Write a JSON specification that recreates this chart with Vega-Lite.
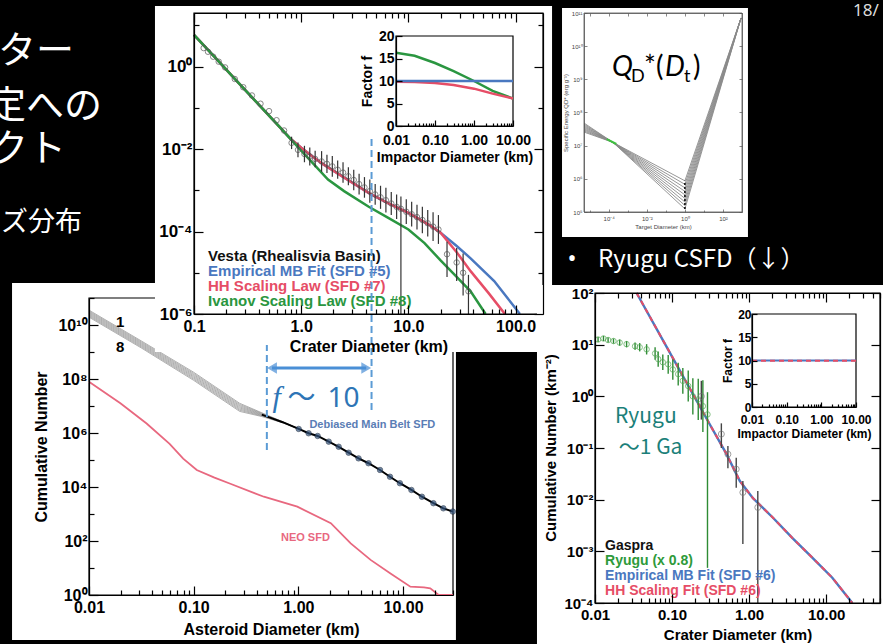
{
"$schema": "https://vega.github.io/schema/vega-lite/v6.json",
"width": 883, "height": 644, "autosize": {"type": "none"}, "padding": 0, "background": "#000000",
"config": {
 "view": {"stroke": null},
 "axis": {"grid": false, "domainColor": "#000000", "tickColor": "#000000", "labelColor": "#000000", "titleColor": "#000000", "labelFont": "Liberation Sans", "titleFont": "Liberation Sans", "labelFontWeight": "bold", "titleFontWeight": "bold", "domainWidth": 1.2, "tickWidth": 1.2, "labelOverlap": false, "labelFlush": false, "labelBound": false},
 "text": {"font": "Liberation Sans"}
},
"datasets": {
 "band": [
  {"x":0.01,"y":3.548e10,"k":0},{"x":0.0316,"y":2.570e9,"k":0},{"x":0.1,"y":1.778e8,"k":0},{"x":0.275,"y":1.259e7,"k":0},{"x":0.447,"y":5.623e6,"k":0},{"x":0.708,"y":2.630e6,"k":0},{"x":1.0,"y":1.445e6,"k":0},
  {"x":0.01,"y":3.258e10,"k":1},{"x":0.0316,"y":2.360e9,"k":1},{"x":0.1,"y":1.611e8,"k":1},{"x":0.275,"y":1.140e7,"k":1},{"x":0.447,"y":5.370e6,"k":1},{"x":0.708,"y":2.594e6,"k":1},{"x":1.0,"y":1.445e6,"k":1},
  {"x":0.01,"y":2.992e10,"k":2},{"x":0.0316,"y":2.168e9,"k":2},{"x":0.1,"y":1.459e8,"k":2},{"x":0.275,"y":1.033e7,"k":2},{"x":0.447,"y":5.129e6,"k":2},{"x":0.708,"y":2.564e6,"k":2},{"x":1.0,"y":1.445e6,"k":2},
  {"x":0.01,"y":2.748e10,"k":3},{"x":0.0316,"y":1.991e9,"k":3},{"x":0.1,"y":1.321e8,"k":3},{"x":0.275,"y":9.35e6,"k":3},{"x":0.447,"y":4.898e6,"k":3},{"x":0.708,"y":2.529e6,"k":3},{"x":1.0,"y":1.445e6,"k":3},
  {"x":0.01,"y":2.518e10,"k":4},{"x":0.0316,"y":1.824e9,"k":4},{"x":0.1,"y":1.199e8,"k":4},{"x":0.275,"y":8.49e6,"k":4},{"x":0.447,"y":4.677e6,"k":4},{"x":0.708,"y":2.495e6,"k":4},{"x":1.0,"y":1.445e6,"k":4},
  {"x":0.01,"y":2.312e10,"k":5},{"x":0.0316,"y":1.675e9,"k":5},{"x":0.1,"y":1.086e8,"k":5},{"x":0.275,"y":7.69e6,"k":5},{"x":0.447,"y":4.467e6,"k":5},{"x":0.708,"y":2.460e6,"k":5},{"x":1.0,"y":1.445e6,"k":5},
  {"x":0.01,"y":2.123e10,"k":6},{"x":0.0316,"y":1.538e9,"k":6},{"x":0.1,"y":9.84e7,"k":6},{"x":0.275,"y":6.97e6,"k":6},{"x":0.447,"y":4.266e6,"k":6},{"x":0.708,"y":2.432e6,"k":6},{"x":1.0,"y":1.445e6,"k":6},
  {"x":0.01,"y":1.950e10,"k":7},{"x":0.0316,"y":1.413e9,"k":7},{"x":0.1,"y":8.913e7,"k":7},{"x":0.275,"y":6.31e6,"k":7},{"x":0.447,"y":4.074e6,"k":7},{"x":0.708,"y":2.399e6,"k":7},{"x":1.0,"y":1.445e6,"k":7}
 ],
 "mbsfd": [
  {"x":0.447,"y":4.786e6,"dot":0},{"x":0.708,"y":2.512e6,"dot":0},{"x":1.007,"y":1.413e6,"dot":1},{"x":1.253,"y":9.77e5,"dot":1},{"x":1.528,"y":7.76e5,"dot":1},{"x":1.95,"y":4.786e5,"dot":1},{"x":2.427,"y":3.09e5,"dot":1},{"x":3.02,"y":1.862e5,"dot":1},{"x":3.758,"y":1.148e5,"dot":1},{"x":4.677,"y":7.59e4,"dot":1},{"x":6.026,"y":4.266e4,"dot":1},{"x":7.499,"y":2.399e4,"dot":1},{"x":9.333,"y":1.38e4,"dot":1},{"x":12.02,"y":7762,"dot":1},{"x":15.14,"y":4365,"dot":1},{"x":19.5,"y":2512,"dot":1},{"x":24.27,"y":1622,"dot":1},{"x":29.85,"y":1230,"dot":1}
 ],
 "neo": [
  {"x":0.01,"y":7.943e7},{"x":0.01995,"y":1.259e7},{"x":0.0355,"y":2.239e6},{"x":0.0589,"y":3.981e5},{"x":0.0794,"y":1.122e5},{"x":0.107,"y":4.266e4},{"x":0.158,"y":2.239e4},{"x":0.224,"y":1.318e4},{"x":0.468,"y":4365},{"x":0.977,"y":1862},{"x":2.042,"y":457},{"x":3.162,"y":81.3},{"x":4.898,"y":19.95},{"x":7.586,"y":6.31},{"x":11.75,"y":2.04},{"x":15.85,"y":1.905},{"x":18.2,"y":1.778},{"x":21.9,"y":1},{"x":30,"y":1}
 ],
 "vesta_lines": [
  {"s":"MB","x":0.1,"y":5.888},{"s":"MB","x":0.1585,"y":1.622},{"s":"MB","x":0.2512,"y":0.4467},{"s":"MB","x":0.3981,"y":0.123},{"s":"MB","x":0.631,"y":0.0339},{"s":"MB","x":0.7943,"y":0.01778},{"s":"MB","x":1.0,"y":0.01072},{"s":"MB","x":1.259,"y":0.00676},{"s":"MB","x":1.585,"y":0.004365},{"s":"MB","x":2.399,"y":0.002188},{"s":"MB","x":4.365,"y":0.000832},{"s":"MB","x":6.31,"y":0.000501},{"s":"MB","x":10,"y":0.0002818},{"s":"MB","x":15.85,"y":0.0001413},{"s":"MB","x":19.95,"y":9.33e-5},{"s":"MB","x":28.18,"y":4.467e-5},{"s":"MB","x":38.02,"y":2.239e-5},{"s":"MB","x":63.1,"y":6.31e-6},{"s":"MB","x":95.5,"y":1.585e-6},{"s":"MB","x":109.6,"y":1e-6},
  {"s":"HH","x":0.1,"y":5.888},{"s":"HH","x":0.1585,"y":1.622},{"s":"HH","x":0.2512,"y":0.4467},{"s":"HH","x":0.3981,"y":0.123},{"s":"HH","x":0.631,"y":0.0339},{"s":"HH","x":0.7943,"y":0.01778},{"s":"HH","x":1.0,"y":0.01072},{"s":"HH","x":1.259,"y":0.00676},{"s":"HH","x":1.585,"y":0.004365},{"s":"HH","x":2.399,"y":0.002188},{"s":"HH","x":4.365,"y":0.000832},{"s":"HH","x":6.31,"y":0.000501},{"s":"HH","x":10,"y":0.0002818},{"s":"HH","x":15.85,"y":0.0001413},{"s":"HH","x":19.95,"y":9.33e-5},{"s":"HH","x":28.18,"y":3.162e-5},{"s":"HH","x":38.02,"y":1.096e-5},{"s":"HH","x":56.23,"y":3.162e-6},{"s":"HH","x":79.43,"y":1e-6},
  {"s":"Iv","x":0.1,"y":5.888},{"s":"Iv","x":0.1585,"y":1.622},{"s":"Iv","x":0.2512,"y":0.4467},{"s":"Iv","x":0.3981,"y":0.123},{"s":"Iv","x":0.631,"y":0.0339},{"s":"Iv","x":1.0,"y":0.00912},{"s":"Iv","x":1.778,"y":0.00182},{"s":"Iv","x":2.512,"y":0.000955},{"s":"Iv","x":4.266,"y":0.000398},{"s":"Iv","x":6.31,"y":0.0002239},{"s":"Iv","x":10,"y":0.0001122},{"s":"Iv","x":14.13,"y":5.25e-5},{"s":"Iv","x":19.95,"y":1.995e-5},{"s":"Iv","x":28.18,"y":7.94e-6},{"s":"Iv","x":38.02,"y":3.548e-6},{"s":"Iv","x":52.48,"y":1e-6}
 ],
 "vesta_pts": [
  {"x":0.123,"y":2.818},{"x":0.135,"y":2.291},{"x":0.151,"y":1.738},{"x":0.17,"y":1.318},{"x":0.195,"y":0.955},{"x":0.24,"y":0.501},{"x":0.288,"y":0.316},{"x":0.347,"y":0.1995},{"x":0.417,"y":0.126},{"x":0.501,"y":0.0832},{"x":0.589,"y":0.0501},{"x":0.692,"y":0.0282},{"x":0.813,"y":0.0141},{"x":0.933,"y":0.00955},{"x":1.072,"y":0.00759},{"x":1.202,"y":0.00661},{"x":1.349,"y":0.00575},{"x":1.549,"y":0.00501},{"x":1.738,"y":0.00437},{"x":1.95,"y":0.0038},{"x":2.188,"y":0.00316},{"x":2.455,"y":0.00269},{"x":2.754,"y":0.00219},{"x":3.09,"y":0.001778},{"x":3.467,"y":0.001413},{"x":3.89,"y":0.001175},{"x":4.365,"y":0.000955},{"x":4.898,"y":0.000794},{"x":5.495,"y":0.000676},{"x":6.166,"y":0.000575},{"x":6.918,"y":0.000479},{"x":7.762,"y":0.000398},{"x":8.511,"y":0.000355},{"x":9.55,"y":0.000302},{"x":10.72,"y":0.000263},{"x":12.02,"y":0.000224},{"x":13.49,"y":0.0001905},{"x":15.14,"y":0.0001585},{"x":16.98,"y":0.0001318},{"x":19.05,"y":0.0001122},{"x":22.91,"y":2.82e-5},{"x":28.18,"y":1.778e-5},{"x":32.36,"y":1e-5},{"x":36.31,"y":3.55e-6}
 ],
 "vesta_err": [
  {"x":0.813,"y":0.01,"y2":0.01995},{"x":0.933,"y":0.00631,"y2":0.01445},{"x":1.072,"y":0.00479,"y2":0.012},{"x":1.202,"y":0.00398,"y2":0.01096},{"x":1.349,"y":0.00363,"y2":0.00912},{"x":1.549,"y":0.00282,"y2":0.00891},{"x":1.738,"y":0.00263,"y2":0.00724},{"x":1.95,"y":0.00214,"y2":0.00676},{"x":2.188,"y":0.001905,"y2":0.00525},{"x":2.455,"y":0.001514,"y2":0.00479},{"x":2.754,"y":0.001318,"y2":0.00363},{"x":3.09,"y":0.001,"y2":0.00316},{"x":3.467,"y":0.000794,"y2":0.00251},{"x":3.89,"y":0.000661,"y2":0.00209},{"x":4.365,"y":0.000501,"y2":0.00182},{"x":4.898,"y":0.000447,"y2":0.001413},{"x":5.495,"y":0.000355,"y2":0.001288},{"x":6.166,"y":0.000288,"y2":0.001148},{"x":6.918,"y":0.000251,"y2":0.000912},{"x":7.762,"y":0.0002,"y2":0.000794},{"x":8.511,"y":1e-6,"y2":0.000708},{"x":9.55,"y":0.0001514,"y2":0.000603},{"x":10.72,"y":0.0001318,"y2":0.000525},{"x":12.02,"y":0.0001122,"y2":0.000447},{"x":13.49,"y":9.12e-5,"y2":0.000398},{"x":15.14,"y":7.59e-5,"y2":0.000331},{"x":16.98,"y":5.89e-5,"y2":0.000295},{"x":19.05,"y":5.01e-5,"y2":0.000251},{"x":22.91,"y":7.94e-6,"y2":5.62e-5},{"x":28.18,"y":6.31e-6,"y2":3.98e-5},{"x":32.36,"y":2.82e-6,"y2":2.95e-5},{"x":36.31,"y":1e-6,"y2":8.91e-6}
 ],
 "vinset": [
  {"s":"Iv","x":0.01,"y":16.3},{"s":"Iv","x":0.03,"y":15.6},{"s":"Iv","x":0.1,"y":14.0},{"s":"Iv","x":0.3,"y":12.2},{"s":"Iv","x":1,"y":10.0},{"s":"Iv","x":3,"y":7.8},{"s":"Iv","x":10,"y":6.1},
  {"s":"HH","x":0.01,"y":9.85},{"s":"HH","x":0.03,"y":9.8},{"s":"HH","x":0.1,"y":9.55},{"s":"HH","x":0.3,"y":9.1},{"s":"HH","x":1,"y":8.3},{"s":"HH","x":3,"y":7.2},{"s":"HH","x":10,"y":6.1},
  {"s":"MB","x":0.01,"y":10},{"s":"MB","x":10,"y":10}
 ],
 "qd": [
  {"k":0,"x":5.012e-6,"y":2.57e7},{"k":0,"x":1.66e-4,"y":1.259e7},{"k":0,"x":1,"y":8.71e5},{"k":0,"x":891,"y":7.08e10},
  {"k":1,"x":5.012e-6,"y":2.78e7},{"k":1,"x":1.66e-4,"y":1.259e7},{"k":1,"x":1,"y":6.82e5},{"k":1,"x":891,"y":7.08e10},
  {"k":2,"x":5.012e-6,"y":3.01e7},{"k":2,"x":1.66e-4,"y":1.259e7},{"k":2,"x":1,"y":5.35e5},{"k":2,"x":891,"y":7.08e10},
  {"k":3,"x":5.012e-6,"y":3.25e7},{"k":3,"x":1.66e-4,"y":1.259e7},{"k":3,"x":1,"y":4.19e5},{"k":3,"x":891,"y":7.08e10},
  {"k":4,"x":5.012e-6,"y":3.52e7},{"k":4,"x":1.66e-4,"y":1.259e7},{"k":4,"x":1,"y":3.28e5},{"k":4,"x":891,"y":7.08e10},
  {"k":5,"x":5.012e-6,"y":3.80e7},{"k":5,"x":1.66e-4,"y":1.259e7},{"k":5,"x":1,"y":2.57e5},{"k":5,"x":891,"y":7.08e10},
  {"k":6,"x":5.012e-6,"y":4.11e7},{"k":6,"x":1.66e-4,"y":1.259e7},{"k":6,"x":1,"y":2.01e5},{"k":6,"x":891,"y":7.08e10},
  {"k":7,"x":5.012e-6,"y":4.45e7},{"k":7,"x":1.66e-4,"y":1.259e7},{"k":7,"x":1,"y":1.58e5},{"k":7,"x":891,"y":7.08e10},
  {"k":8,"x":5.012e-6,"y":4.81e7},{"k":8,"x":1.66e-4,"y":1.259e7},{"k":8,"x":1,"y":1.24e5},{"k":8,"x":891,"y":7.08e10}
 ],
 "rfit": [
  {"x":0.03467,"y":100},{"x":0.1,"y":5.888},{"x":0.3162,"y":0.2692},{"x":0.5012,"y":0.07943},{"x":0.7586,"y":0.02291},{"x":1.122,"y":0.01072},{"x":2.042,"y":0.004467},{"x":3.631,"y":0.00182},{"x":6.607,"y":0.000759},{"x":12.02,"y":0.000309},{"x":21.88,"y":0.0001}
 ],
 "ryugu_pts": [
  {"x":0.01096,"y":12.59},{"x":0.01288,"y":13.18},{"x":0.01479,"y":12.3},{"x":0.01738,"y":11.75},{"x":0.02089,"y":10.96},{"x":0.0257,"y":10.23},{"x":0.03311,"y":9.33},{"x":0.03802,"y":8.91},{"x":0.04677,"y":8.13},{"x":0.06026,"y":6.76},{"x":0.06607,"y":5.25},{"x":0.07586,"y":4.57},{"x":0.08913,"y":4.17},{"x":0.1023,"y":3.31},{"x":0.1202,"y":2.69},{"x":0.138,"y":1.995},{"x":0.1622,"y":1.585},{"x":0.1862,"y":1.0},{"x":0.2188,"y":0.871},{"x":0.2512,"y":0.646},{"x":0.2884,"y":0.447}
 ],
 "ryugu_err": [
  {"x":0.01096,"y":11.22,"y2":14.13},{"x":0.01288,"y":11.75,"y2":14.79},{"x":0.01479,"y":10.96,"y2":13.8},{"x":0.01738,"y":10.47,"y2":13.18},{"x":0.02089,"y":9.55,"y2":12.59},{"x":0.0257,"y":8.91,"y2":11.75},{"x":0.03311,"y":7.94,"y2":10.96},{"x":0.03802,"y":7.41,"y2":10.72},{"x":0.04677,"y":6.46,"y2":10.23},{"x":0.06026,"y":5.13,"y2":8.91},{"x":0.06607,"y":3.72,"y2":7.41},{"x":0.07586,"y":3.24,"y2":6.46},{"x":0.08913,"y":2.75,"y2":6.31},{"x":0.1023,"y":2.09,"y2":5.25},{"x":0.1202,"y":1.622,"y2":4.467},{"x":0.138,"y":1.122,"y2":3.548},{"x":0.1622,"y":0.794,"y2":3.162},{"x":0.1862,"y":0.447,"y2":2.239},{"x":0.2188,"y":0.347,"y2":2.188},{"x":0.2512,"y":0.204,"y2":2.042},{"x":0.2884,"y":0.000479,"y2":1.202}
 ],
 "gaspra_pts": [
  {"x":0.2399,"y":1.0},{"x":0.4365,"y":0.1862},{"x":0.5309,"y":0.07586},{"x":0.6808,"y":0.0389},{"x":0.8299,"y":0.0138},{"x":1.297,"y":0.00708}
 ],
 "gaspra_err": [
  {"x":0.2399,"y":0.3548,"y2":1.995},{"x":0.4365,"y":0.1,"y2":0.3},{"x":0.5309,"y":0.04074,"y2":0.1096},{"x":0.6808,"y":0.01698,"y2":0.06457},{"x":0.8299,"y":0.00138,"y2":0.02291},{"x":1.297,"y":0.0001,"y2":0.01479}
 ]
},
"resolve": {"scale": {"x": "independent", "y": "independent", "color": "independent"}, "axis": {"x": "independent", "y": "independent"}},
"layer": [
 {
  "encoding": {
   "x": {"field": "px", "type": "quantitative", "scale": {"domain": [0, 1], "range": [0, 883], "nice": false, "zero": false}, "axis": null},
   "y": {"field": "py", "type": "quantitative", "scale": {"domain": [0, 1], "range": [0, 644], "nice": false, "zero": false}, "axis": null}
  },
  "layer": [
   {"data": {"values": [{"px": 0.0838, "py": 0.081, "t": "クレーター"}, {"px": 0.1155, "py": 0.166, "t": "年代推定への"}, {"px": 0.0747, "py": 0.233, "t": "インパクト"}]},
    "mark": {"type": "text", "font": "Noto Sans CJK JP", "fontSize": 38, "align": "right", "baseline": "middle", "color": "#ffffff"}, "encoding": {"text": {"field": "t"}}},
   {"data": {"values": [{"px": 0.0929, "py": 0.3463, "t": "サイズ分布"}]},
    "mark": {"type": "text", "font": "Noto Sans CJK JP", "fontSize": 27, "align": "right", "baseline": "middle", "color": "#ffffff"}, "encoding": {"text": {"field": "t"}}},
   {"data": {"values": [{"px": 0.966, "py": 0.017, "t": "18/"}]},
    "mark": {"type": "text", "font": "Noto Sans", "fontSize": 17, "align": "left", "baseline": "middle", "color": "#dddddd"}, "encoding": {"text": {"field": "t"}}},
   {"data": {"values": [{"px": 0.6478, "py": 0.4037, "t": "•"}]},
    "mark": {"type": "text", "font": "Noto Sans", "fontSize": 24, "align": "center", "baseline": "middle", "color": "#ffffff"}, "encoding": {"text": {"field": "t"}}},
   {"data": {"values": [{"px": 0.6772, "py": 0.4037, "t": "Ryugu CSFD（↓）"}]},
    "mark": {"type": "text", "font": "Noto Sans CJK JP", "fontSize": 24, "align": "left", "baseline": "middle", "color": "#ffffff"}, "encoding": {"text": {"field": "t"}}}
  ]
 },
 {
  "encoding": {
   "x": {"field": "x", "type": "quantitative", "scale": {"type": "log", "domain": [0.01, 30], "range": [89, 453], "nice": false},
    "axis": {"orient": "bottom", "offset": -49, "zindex": 1, "values": [0.01,0.02,0.03,0.04,0.05,0.06,0.07,0.08,0.09,0.1,0.2,0.3,0.4,0.5,0.6,0.7,0.8,0.9,1,2,3,4,5,6,7,8,9,10,20,30],
     "labelExpr": "abs(log(datum.value)/LN10 - round(log(datum.value)/LN10)) < 0.001 ? format(datum.value, '.2f') : ''",
     "tickSize": {"condition": {"test": "abs(log(datum.value)/LN10 - round(log(datum.value)/LN10)) < 0.001", "value": -9}, "value": -5},
     "labelPadding": 13, "labelFontSize": 16, "title": "Asteroid Diameter (km)", "titleFontSize": 16, "titlePadding": 2}},
   "y": {"field": "y", "type": "quantitative", "scale": {"type": "log", "domain": [1, 1e11], "range": [595, 298], "nice": false},
    "axis": {"orient": "left", "offset": -89, "zindex": 1, "values": [1,10,100,1000,1e4,1e5,1e6,1e7,1e8,1e9,1e10,1e11],
     "labelExpr": "round(log(datum.value)/LN10) % 2 == 0 ? '10' + replace(replace(replace(replace(replace(replace(replace(replace(replace(replace(replace(toString(round(log(datum.value)/LN10)), '-', '⁻'), '0', '⁰'), regexp('1', 'g'), '¹'), '2', '²'), '3', '³'), '4', '⁴'), '5', '⁵'), '6', '⁶'), '7', '⁷'), '8', '⁸'), '9', '⁹') : ''",
     "tickSize": {"condition": {"test": "round(log(datum.value)/LN10) % 2 == 0", "value": -9}, "value": -5},
     "labelPadding": 11, "labelFontSize": 16, "title": "Cumulative Number", "titleFontSize": 16, "titlePadding": 8}}
  },
  "layer": [
   {"data": {"values": [{"x": 0.00184, "x2": 32, "y": 0.0215, "y2": 3.59e11}]}, "mark": {"type": "rect", "color": "#ffffff"}, "encoding": {"x2": {"field": "x2"}, "y2": {"field": "y2"}}},
   {"data": {"values": [{"x": 0.01, "x2": 30, "y": 1, "y2": 1e11}]}, "mark": {"type": "rect", "filled": false, "color": "#000000", "strokeWidth": 1.2}, "encoding": {"x2": {"field": "x2"}, "y2": {"field": "y2"}}},
   {"data": {"name": "band"}, "mark": {"type": "line", "color": "#9a9a9a", "strokeWidth": 0.8}, "encoding": {"detail": {"field": "k"}}},
   {"data": {"name": "mbsfd"}, "mark": {"type": "line", "color": "#000000", "strokeWidth": 2}},
   {"data": {"name": "mbsfd"}, "transform": [{"filter": "datum.dot == 1"}], "mark": {"type": "point", "shape": "circle", "filled": true, "size": 30, "color": "#34557f", "stroke": "#15253a", "strokeWidth": 0.8}},
   {"data": {"name": "neo"}, "mark": {"type": "line", "color": "#e8687f", "strokeWidth": 1.8}},
   {"data": {"values": [{"x": 0.0198, "y": 1.29e10, "t": "1"}, {"x": 0.0198, "y": 1.53e9, "t": "8"}]}, "mark": {"type": "text", "fontSize": 15, "fontWeight": "bold", "color": "#000000", "align": "center", "baseline": "middle"}, "encoding": {"text": {"field": "t"}}},
   {"data": {"values": [{"x": 5.09, "y": 1.98e6, "t": "Debiased Main Belt SFD"}]}, "mark": {"type": "text", "fontSize": 11, "fontWeight": "bold", "color": "#5a7db5", "align": "center", "baseline": "middle"}, "encoding": {"text": {"field": "t"}}},
   {"data": {"values": [{"x": 1.167, "y": 129, "t": "NEO SFD"}]}, "mark": {"type": "text", "fontSize": 11, "fontWeight": "bold", "color": "#e8687f", "align": "center", "baseline": "middle"}, "encoding": {"text": {"field": "t"}}}
  ]
 },
 {
  "encoding": {
   "x": {"field": "x", "type": "quantitative", "scale": {"type": "log", "domain": [0.1, 180], "range": [194, 543], "nice": false},
    "axis": {"orient": "bottom", "offset": -330, "zindex": 1, "values": [0.1,0.2,0.3,0.4,0.5,0.6,0.7,0.8,0.9,1,2,3,4,5,6,7,8,9,10,20,30,40,50,60,70,80,90,100],
     "labelExpr": "abs(log(datum.value)/LN10 - round(log(datum.value)/LN10)) < 0.001 ? format(datum.value, '.1f') : ''",
     "tickSize": {"condition": {"test": "abs(log(datum.value)/LN10 - round(log(datum.value)/LN10)) < 0.001", "value": -9}, "value": -5},
     "labelPadding": 13, "labelFontSize": 16, "title": "Crater Diameter (km)", "titleFontSize": 16, "titlePadding": 0}},
   "y": {"field": "y", "type": "quantitative", "scale": {"type": "log", "domain": [1e-6, 19.95], "range": [314, 13], "nice": false},
    "axis": {"orient": "left", "offset": -194, "zindex": 1, "values": [1e-6,1e-5,1e-4,1e-3,0.01,0.1,1,10],
     "labelExpr": "round(log(datum.value)/LN10) % 2 == 0 ? '10' + replace(replace(replace(replace(replace(replace(replace(replace(replace(replace(replace(toString(round(log(datum.value)/LN10)), '-', '⁻'), '0', '⁰'), regexp('1', 'g'), '¹'), '2', '²'), '3', '³'), '4', '⁴'), '5', '⁵'), '6', '⁶'), '7', '⁷'), '8', '⁸'), '9', '⁹') : ''",
     "tickSize": {"condition": {"test": "round(log(datum.value)/LN10) % 2 == 0", "value": -9}, "value": -5},
     "labelPadding": 11, "labelFontSize": 17, "title": null}}
  },
  "layer": [
   {"data": {"values": [{"x": 0.04325, "x2": 218.6, "y": 1.2e-7, "y2": 29.5}]}, "mark": {"type": "rect", "color": "#ffffff"}, "encoding": {"x2": {"field": "x2"}, "y2": {"field": "y2"}}},
   {"data": {"name": "vesta_lines"}, "mark": {"type": "line", "strokeWidth": 2.5}, "encoding": {"color": {"field": "s", "type": "nominal", "scale": {"domain": ["Vesta", "MB", "HH", "Iv"], "range": ["#111111", "#4a78c0", "#e64d66", "#2a9640"]}, "legend": null}}},
   {"data": {"name": "vesta_err"}, "mark": {"type": "rule", "color": "#333333", "strokeWidth": 1.2}, "encoding": {"y2": {"field": "y2"}}},
   {"data": {"name": "vesta_pts"}, "mark": {"type": "point", "shape": "circle", "filled": false, "size": 30, "color": "#555555", "strokeWidth": 1}},
   {"data": {"values": [{"x": 0.1352, "y": 2.547e-5, "t": "Vesta (Rhealisvia Basin)", "s": "Vesta"}, {"x": 0.1352, "y": 1.102e-5, "t": "Empirical MB Fit (SFD #5)", "s": "MB"}, {"x": 0.1352, "y": 4.77e-6, "t": "HH Scaling Law (SFD #7)", "s": "HH"}, {"x": 0.1352, "y": 2.065e-6, "t": "Ivanov Scaling Law (SFD #8)", "s": "Iv"}]},
    "mark": {"type": "text", "fontSize": 15, "fontWeight": "bold", "align": "left", "baseline": "middle"},
    "encoding": {"text": {"field": "t"}, "color": {"field": "s", "type": "nominal", "scale": {"domain": ["Vesta", "MB", "HH", "Iv"], "range": ["#111111", "#4a78c0", "#e64d66", "#2a9640"]}, "legend": null}}}
  ]
 },
 {
  "data": {"values": [{"x": 0.1, "x2": 180, "y": 1e-6, "y2": 19.95}]},
  "mark": {"type": "rect", "filled": false, "color": "#000000", "strokeWidth": 1.2},
  "encoding": {
   "x": {"field": "x", "type": "quantitative", "scale": {"type": "log", "domain": [0.1, 180], "range": [194, 543], "nice": false},
    "axis": {"orient": "top", "offset": -13, "zindex": 1, "labels": false, "title": null, "values": [0.1,0.2,0.3,0.4,0.5,0.6,0.7,0.8,0.9,1,2,3,4,5,6,7,8,9,10,20,30,40,50,60,70,80,90,100],
     "tickSize": {"condition": {"test": "abs(log(datum.value)/LN10 - round(log(datum.value)/LN10)) < 0.001", "value": -9}, "value": -5}}},
   "x2": {"field": "x2"},
   "y": {"field": "y", "type": "quantitative", "scale": {"type": "log", "domain": [1e-6, 19.95], "range": [314, 13], "nice": false},
    "axis": {"orient": "right", "offset": -340, "zindex": 1, "labels": false, "title": null, "values": [1e-6,1e-5,1e-4,1e-3,0.01,0.1,1,10],
     "tickSize": {"condition": {"test": "round(log(datum.value)/LN10) % 2 == 0", "value": -9}, "value": -5}}},
   "y2": {"field": "y2"}
  }
 },
 {
  "encoding": {
   "x": {"field": "x", "type": "quantitative", "scale": {"type": "log", "domain": [0.01, 10], "range": [396, 513], "nice": false},
    "axis": {"orient": "bottom", "offset": -518, "zindex": 1, "values": [0.01,0.02,0.03,0.04,0.05,0.06,0.07,0.08,0.09,0.1,0.2,0.3,0.4,0.5,0.6,0.7,0.8,0.9,1,2,3,4,5,6,7,8,9,10],
     "labelExpr": "abs(log(datum.value)/LN10 - round(log(datum.value)/LN10)) < 0.001 ? format(datum.value, '.2f') : ''",
     "tickSize": {"condition": {"test": "abs(log(datum.value)/LN10 - round(log(datum.value)/LN10)) < 0.001", "value": -6}, "value": -3},
     "labelPadding": 13, "labelFontSize": 14, "title": "Impactor Diameter (km)", "titleFontSize": 14, "titlePadding": 0}},
   "y": {"field": "y", "type": "quantitative", "scale": {"domain": [0, 20], "range": [126, 36], "nice": false, "zero": false},
    "axis": {"orient": "left", "offset": -396, "zindex": 1, "values": [0, 5, 10, 15, 20], "tickSize": -6, "labelPadding": 8, "labelFontSize": 14, "title": "Factor f", "titleFontSize": 14, "titlePadding": 4}}
  },
  "layer": [
   {"data": {"values": [{"x": 0.01, "x2": 10, "y": 0, "y2": 20}]}, "mark": {"type": "rect", "filled": false, "color": "#000000", "strokeWidth": 1.2}, "encoding": {"x2": {"field": "x2"}, "y2": {"field": "y2"}}},
   {"data": {"name": "vinset"}, "mark": {"type": "line", "strokeWidth": 2.5}, "encoding": {"color": {"field": "s", "type": "nominal", "scale": {"domain": ["MB", "HH", "Iv"], "range": ["#4a78c0", "#e64d66", "#2a9640"]}, "legend": null}}}
  ]
 },
 {
  "encoding": {
   "x": {"field": "x", "type": "quantitative", "scale": {"type": "log", "domain": [0.01, 30], "range": [89, 453], "nice": false}, "axis": null},
   "y": {"field": "y", "type": "quantitative", "scale": {"type": "log", "domain": [1, 1e11], "range": [595, 298], "nice": false}, "axis": null}
  },
  "layer": [
   {"data": {"values": [{"x": 0.5, "y": 2.34e5, "y2": 1.82e9}, {"x": 5, "y": 7.08e6, "y2": 1.1e17}]}, "mark": {"type": "rule", "color": "#5b9bd5", "strokeWidth": 2, "strokeDash": [7, 4]}, "encoding": {"y2": {"field": "y2"}}},
   {"data": {"values": [{"x": 0.56, "x2": 4.45, "y": 2.55e8}]}, "mark": {"type": "rule", "color": "#4a8fd6", "strokeWidth": 3}, "encoding": {"x2": {"field": "x2"}}},
   {"data": {"values": [{"x": 0.56, "y": 2.55e8}]}, "mark": {"type": "point", "shape": "triangle-left", "filled": true, "size": 130, "color": "#4a8fd6"}},
   {"data": {"values": [{"x": 4.45, "y": 2.55e8}]}, "mark": {"type": "point", "shape": "triangle-right", "filled": true, "size": 130, "color": "#4a8fd6"}},
   {"data": {"values": [{"x": 0.565, "y": 9.18e6, "t": "f"}]}, "mark": {"type": "text", "font": "Liberation Serif", "fontStyle": "italic", "fontSize": 30, "align": "left", "baseline": "alphabetic", "color": "#2e75b6"}, "encoding": {"text": {"field": "t"}}},
   {"data": {"values": [{"x": 0.565, "y": 9.18e6, "t": "～"}]}, "mark": {"type": "text", "font": "Noto Sans CJK JP", "fontSize": 28, "align": "left", "baseline": "alphabetic", "dx": 15, "color": "#2e75b6"}, "encoding": {"text": {"field": "t"}}},
   {"data": {"values": [{"x": 0.565, "y": 9.18e6, "t": "10"}]}, "mark": {"type": "text", "font": "Noto Sans", "fontSize": 28, "align": "left", "baseline": "alphabetic", "dx": 55, "color": "#2e75b6"}, "encoding": {"text": {"field": "t"}}}
  ]
 },
 {
  "encoding": {
   "x": {"field": "x", "type": "quantitative", "scale": {"type": "log", "domain": [5.012e-6, 1000], "range": [584, 742], "nice": false},
    "axis": {"orient": "bottom", "offset": -432, "zindex": 1, "values": [1e-5,1e-4,1e-3,0.01,0.1,1,10,100],
     "labelExpr": "round(log(datum.value)/LN10) % 2 == 0 ? '10' + replace(replace(replace(replace(replace(replace(replace(replace(replace(replace(replace(toString(round(log(datum.value)/LN10)), '-', '⁻'), '0', '⁰'), regexp('1', 'g'), '¹'), '2', '²'), '3', '³'), '4', '⁴'), '5', '⁵'), '6', '⁶'), '7', '⁷'), '8', '⁸'), '9', '⁹') : ''",
     "tickSize": {"condition": {"test": "round(log(datum.value)/LN10) % 2 == 0", "value": -3}, "value": -2},
     "labelPadding": 6, "labelFontSize": 6, "labelFontWeight": "normal", "labelColor": "#444444", "domainColor": "#555555", "tickColor": "#555555", "domainWidth": 0.8, "tickWidth": 0.7,
     "title": "Target Diameter (km)", "titleFontSize": 6, "titleFontWeight": "normal", "titleColor": "#444444", "titlePadding": 1}},
   "y": {"field": "y", "type": "quantitative", "scale": {"type": "log", "domain": [1e5, 1e11], "range": [212, 13], "nice": false},
    "axis": {"orient": "left", "offset": -584, "zindex": 1, "values": [1e5,1e6,1e7,1e8,1e9,1e10,1e11],
     "labelExpr": "'10' + replace(replace(replace(replace(replace(replace(replace(replace(replace(replace(replace(toString(round(log(datum.value)/LN10)), '-', '⁻'), '0', '⁰'), regexp('1', 'g'), '¹'), '2', '²'), '3', '³'), '4', '⁴'), '5', '⁵'), '6', '⁶'), '7', '⁷'), '8', '⁸'), '9', '⁹')",
     "tickSize": -3, "labelPadding": 5, "labelFontSize": 6, "labelFontWeight": "normal", "labelColor": "#444444", "domainColor": "#555555", "tickColor": "#555555", "domainWidth": 0.8, "tickWidth": 0.7,
     "title": "Specific Energy QD* (erg g⁻¹)", "titleFontSize": 6, "titleFontWeight": "normal", "titleColor": "#444444", "titlePadding": 3}}
  },
  "layer": [
   {"data": {"values": [{"x": 3.51e-7, "x2": 2056, "y": 1.766e4, "y2": 1.413e11}]}, "mark": {"type": "rect", "color": "#ffffff"}, "encoding": {"x2": {"field": "x2"}, "y2": {"field": "y2"}}},
   {"data": {"name": "qd"}, "mark": {"type": "line", "color": "#8a8a8a", "strokeWidth": 0.9}, "encoding": {"detail": {"field": "k"}}},
   {"data": {"values": [{"x": 7.94e-5, "y": 1.585e7}, {"x": 2.512e-4, "y": 1.122e7}]}, "mark": {"type": "line", "color": "#3fc040", "strokeWidth": 2}},
   {"data": {"values": [{"x": 1, "y": 1.24e5, "y2": 8.71e5}]}, "mark": {"type": "rule", "color": "#000000", "strokeWidth": 1.5, "strokeDash": [2, 2]}, "encoding": {"y2": {"field": "y2"}}},
   {"data": {"values": [{"x": 1.483e-4, "y": 1.259e9, "t": "Q"}]}, "mark": {"type": "text", "font": "Lato", "fontSize": 28, "fontStyle": "italic", "align": "left", "baseline": "alphabetic", "color": "#000000"}, "encoding": {"text": {"field": "t"}}},
   {"data": {"values": [{"x": 1.483e-4, "y": 1.259e9, "t": "D"}]}, "mark": {"type": "text", "font": "Lato", "fontSize": 18, "align": "left", "baseline": "alphabetic", "dx": 19, "dy": 6, "color": "#000000"}, "encoding": {"text": {"field": "t"}}},
   {"data": {"values": [{"x": 1.483e-4, "y": 1.259e9, "t": "*("}]}, "mark": {"type": "text", "font": "Lato", "fontSize": 28, "align": "left", "baseline": "alphabetic", "dx": 32, "color": "#000000"}, "encoding": {"text": {"field": "t"}}},
   {"data": {"values": [{"x": 1.483e-4, "y": 1.259e9, "t": "D"}]}, "mark": {"type": "text", "font": "Lato", "fontSize": 28, "fontStyle": "italic", "align": "left", "baseline": "alphabetic", "dx": 53, "color": "#000000"}, "encoding": {"text": {"field": "t"}}},
   {"data": {"values": [{"x": 1.483e-4, "y": 1.259e9, "t": "t"}]}, "mark": {"type": "text", "font": "Lato", "fontSize": 18, "align": "left", "baseline": "alphabetic", "dx": 72, "dy": 6, "color": "#000000"}, "encoding": {"text": {"field": "t"}}},
   {"data": {"values": [{"x": 1.483e-4, "y": 1.259e9, "t": ")"}]}, "mark": {"type": "text", "font": "Lato", "fontSize": 28, "align": "left", "baseline": "alphabetic", "dx": 81, "color": "#000000"}, "encoding": {"text": {"field": "t"}}}
  ]
 },
 {
  "data": {"values": [{"x": 5.012e-6, "x2": 1000, "y": 1e5, "y2": 1e11}]},
  "mark": {"type": "rect", "filled": false, "color": "#555555", "strokeWidth": 0.8},
  "encoding": {
   "x": {"field": "x", "type": "quantitative", "scale": {"type": "log", "domain": [5.012e-6, 1000], "range": [584, 742], "nice": false},
    "axis": {"orient": "top", "offset": -13, "zindex": 1, "labels": false, "title": null, "values": [1e-5,1e-4,1e-3,0.01,0.1,1,10,100], "tickSize": -3, "domainColor": "#555555", "tickColor": "#555555", "domainWidth": 0.8, "tickWidth": 0.7}},
   "x2": {"field": "x2"},
   "y": {"field": "y", "type": "quantitative", "scale": {"type": "log", "domain": [1e5, 1e11], "range": [212, 13], "nice": false},
    "axis": {"orient": "right", "offset": -141, "zindex": 1, "labels": false, "title": null, "values": [1e5,1e6,1e7,1e8,1e9,1e10,1e11], "tickSize": -3, "domainColor": "#555555", "tickColor": "#555555", "domainWidth": 0.8, "tickWidth": 0.7}},
   "y2": {"field": "y2"}
  }
 },
 {
  "encoding": {
   "x": {"field": "x", "type": "quantitative", "scale": {"type": "log", "domain": [0.01, 50], "range": [595, 880], "nice": false},
    "axis": {"orient": "bottom", "offset": -41, "zindex": 1, "values": [0.01,0.02,0.03,0.04,0.05,0.06,0.07,0.08,0.09,0.1,0.2,0.3,0.4,0.5,0.6,0.7,0.8,0.9,1,2,3,4,5,6,7,8,9,10,20,30,40,50],
     "labelExpr": "abs(log(datum.value)/LN10 - round(log(datum.value)/LN10)) < 0.001 ? format(datum.value, '.2f') : ''",
     "tickSize": {"condition": {"test": "abs(log(datum.value)/LN10 - round(log(datum.value)/LN10)) < 0.001", "value": -9}, "value": -5},
     "labelPadding": 13, "labelFontSize": 15, "title": "Crater Diameter (km)", "titleFontSize": 15, "titlePadding": 1}},
   "y": {"field": "y", "type": "quantitative", "scale": {"type": "log", "domain": [1e-4, 100], "range": [603, 293], "nice": false},
    "axis": {"orient": "left", "offset": -595, "zindex": 1, "values": [1e-4,1e-3,0.01,0.1,1,10,100],
     "labelExpr": "'10' + replace(replace(replace(replace(replace(replace(replace(replace(replace(replace(replace(toString(round(log(datum.value)/LN10)), '-', '⁻'), '0', '⁰'), regexp('1', 'g'), '¹'), '2', '²'), '3', '³'), '4', '⁴'), '5', '⁵'), '6', '⁶'), '7', '⁷'), '8', '⁸'), '9', '⁹')",
     "tickSize": -9, "labelPadding": 11, "labelFontSize": 15, "title": null}}
  },
  "layer": [
   {"data": {"values": [{"x": 0.001766, "x2": 67.5, "y": 1.233e-5, "y2": 143}]}, "mark": {"type": "rect", "color": "#ffffff"}, "encoding": {"x2": {"field": "x2"}, "y2": {"field": "y2"}}},
   {"data": {"name": "rfit"}, "mark": {"type": "line", "color": "#4a78c0", "strokeWidth": 2.4}},
   {"data": {"name": "rfit"}, "mark": {"type": "line", "color": "#e64d66", "strokeWidth": 2, "strokeDash": [5, 4]}},
   {"data": {"name": "ryugu_err"}, "mark": {"type": "rule", "color": "#2e8b34", "strokeWidth": 1.4}, "encoding": {"y2": {"field": "y2"}}},
   {"data": {"name": "ryugu_pts"}, "mark": {"type": "point", "shape": "circle", "filled": false, "size": 30, "color": "#52a852", "strokeWidth": 1}},
   {"data": {"name": "gaspra_err"}, "mark": {"type": "rule", "color": "#444444", "strokeWidth": 1.4}, "encoding": {"y2": {"field": "y2"}}},
   {"data": {"name": "gaspra_pts"}, "mark": {"type": "point", "shape": "circle", "filled": false, "size": 36, "color": "#777777", "strokeWidth": 1}},
   {"data": {"values": [{"x": 0.00272, "y": 0.1, "t": "Cumulative Number (km⁻²)"}]}, "mark": {"type": "text", "fontSize": 15, "fontWeight": "bold", "angle": 270, "align": "center", "baseline": "middle", "color": "#000000"}, "encoding": {"text": {"field": "t"}}},
   {"data": {"values": [{"x": 0.0457, "y": 0.39, "t": "Ryugu"}, {"x": 0.0527, "y": 0.0995, "t": "～1 Ga"}]}, "mark": {"type": "text", "font": "Noto Sans CJK JP", "fontSize": 21, "align": "center", "baseline": "middle", "color": "#1b7f79"}, "encoding": {"text": {"field": "t"}}},
   {"data": {"values": [{"x": 0.01349, "y": 1.271e-3, "t": "Gaspra", "s": "G"}, {"x": 0.01349, "y": 6.5e-4, "t": "Ryugu (x 0.8)", "s": "R"}, {"x": 0.01349, "y": 3.33e-4, "t": "Empirical MB Fit (SFD #6)", "s": "MB"}, {"x": 0.01349, "y": 1.71e-4, "t": "HH Scaling Fit (SFD #6)", "s": "HH"}]},
    "mark": {"type": "text", "fontSize": 14, "fontWeight": "bold", "align": "left", "baseline": "middle"},
    "encoding": {"text": {"field": "t"}, "color": {"field": "s", "type": "nominal", "scale": {"domain": ["G", "R", "MB", "HH"], "range": ["#111111", "#2e9a3a", "#4a78c0", "#e64d66"]}, "legend": null}}}
  ]
 },
 {
  "data": {"values": [{"x": 0.01, "x2": 50, "y": 1e-4, "y2": 100}]},
  "mark": {"type": "rect", "filled": false, "color": "#000000", "strokeWidth": 1.2},
  "encoding": {
   "x": {"field": "x", "type": "quantitative", "scale": {"type": "log", "domain": [0.01, 50], "range": [595, 880], "nice": false},
    "axis": {"orient": "top", "offset": -293, "zindex": 1, "labels": false, "title": null, "values": [0.01,0.02,0.03,0.04,0.05,0.06,0.07,0.08,0.09,0.1,0.2,0.3,0.4,0.5,0.6,0.7,0.8,0.9,1,2,3,4,5,6,7,8,9,10,20,30,40,50],
     "tickSize": {"condition": {"test": "abs(log(datum.value)/LN10 - round(log(datum.value)/LN10)) < 0.001", "value": -9}, "value": -5}}},
   "x2": {"field": "x2"},
   "y": {"field": "y", "type": "quantitative", "scale": {"type": "log", "domain": [1e-4, 100], "range": [603, 293], "nice": false},
    "axis": {"orient": "right", "offset": -3, "zindex": 1, "labels": false, "title": null, "values": [1e-4,1e-3,0.01,0.1,1,10,100], "tickSize": -9}},
   "y2": {"field": "y2"}
  }
 },
 {
  "encoding": {
   "x": {"field": "x", "type": "quantitative", "scale": {"type": "log", "domain": [0.01, 10], "range": [752, 856], "nice": false},
    "axis": {"orient": "bottom", "offset": -237, "zindex": 1, "values": [0.01,0.02,0.03,0.04,0.05,0.06,0.07,0.08,0.09,0.1,0.2,0.3,0.4,0.5,0.6,0.7,0.8,0.9,1,2,3,4,5,6,7,8,9,10],
     "labelExpr": "abs(log(datum.value)/LN10 - round(log(datum.value)/LN10)) < 0.001 ? format(datum.value, '.2f') : ''",
     "tickSize": {"condition": {"test": "abs(log(datum.value)/LN10 - round(log(datum.value)/LN10)) < 0.001", "value": -5}, "value": -3},
     "labelPadding": 12, "labelFontSize": 12, "title": "Impactor Diameter (km)", "titleFontSize": 12, "titlePadding": 1}},
   "y": {"field": "y", "type": "quantitative", "scale": {"domain": [0, 20], "range": [407, 314], "nice": false, "zero": false},
    "axis": {"orient": "left", "offset": -752, "zindex": 1, "values": [0, 5, 10, 15, 20], "tickSize": -5, "labelPadding": 6, "labelFontSize": 12, "title": "Factor f", "titleFontSize": 12, "titlePadding": 3}}
  },
  "layer": [
   {"data": {"values": [{"x": 0.01, "x2": 10, "y": 0, "y2": 20}]}, "mark": {"type": "rect", "filled": false, "color": "#000000", "strokeWidth": 1.2}, "encoding": {"x2": {"field": "x2"}, "y2": {"field": "y2"}}},
   {"data": {"values": [{"x": 0.01, "y": 10}, {"x": 10, "y": 10}]}, "mark": {"type": "line", "color": "#4a78c0", "strokeWidth": 2.2}},
   {"data": {"values": [{"x": 0.01, "y": 9.95}, {"x": 10, "y": 9.95}]}, "mark": {"type": "line", "color": "#e64d66", "strokeWidth": 1.8, "strokeDash": [5, 4]}}
  ]
 }
]
}
